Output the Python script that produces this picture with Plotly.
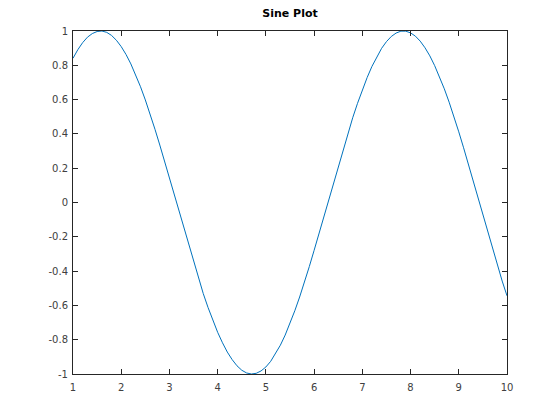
import plotly.graph_objects as go

x_values = [round(1.0 + 0.1 * i, 1) for i in range(91)]
y_values = [
    0.841, 0.891, 0.932, 0.964, 0.985, 0.997, 1.000, 0.992, 0.974, 0.946,
    0.909, 0.863, 0.808, 0.746, 0.675, 0.598, 0.516, 0.427, 0.335, 0.239,
    0.141, 0.042, -0.058, -0.158, -0.256, -0.351, -0.443, -0.530, -0.612, -0.688,
    -0.757, -0.818, -0.872, -0.916, -0.952, -0.978, -0.994, -1.000, -0.996, -0.982,
    -0.959, -0.926, -0.883, -0.832, -0.773, -0.706, -0.631, -0.551, -0.465, -0.374,
    -0.279, -0.182, -0.083, 0.017, 0.117, 0.215, 0.312, 0.405, 0.494, 0.578,
    0.657, 0.729, 0.794, 0.850, 0.899, 0.938, 0.968, 0.988, 0.999, 0.999,
    0.989, 0.970, 0.941, 0.902, 0.855, 0.798, 0.734, 0.663, 0.585, 0.501,
    0.412, 0.319, 0.223, 0.124, 0.025, -0.075, -0.174, -0.272, -0.366, -0.458,
    -0.544,
]
x_ticks = [1, 2, 3, 4, 5, 6, 7, 8, 9, 10]
y_ticks = [-1, -0.8, -0.6, -0.4, -0.2, 0, 0.2, 0.4, 0.6, 0.8, 1]
y_tick_labels = ["-1", "-0.8", "-0.6", "-0.4", "-0.2", "0", "0.2", "0.4", "0.6", "0.8", "1"]

fig = go.Figure()
fig.add_trace(go.Scatter(x=x_values, y=y_values, mode="lines",
                         line=dict(color="#0072BD", width=1)))

axis_common = dict(showline=True, linecolor="#262626", linewidth=1, mirror="ticks",
                   ticks="inside", ticklen=5, tickcolor="#262626", tickwidth=1,
                   showgrid=False, zeroline=False,
                   tickfont=dict(family="DejaVu Sans", size=10, color="#404040"))

W, H = 552, 412
fig.update_layout(
    width=W, height=H,
    margin=dict(l=65, r=53, t=23, b=46),
    paper_bgcolor="white", plot_bgcolor="white",
    showlegend=False,
    title=dict(text="<b>Sine Plot</b>", x=282/W, xanchor="center", xref="container",
               y=1 - 5/H, yanchor="middle", yref="container",
               font=dict(family="DejaVu Sans", size=11, color="black")),
    xaxis=dict(range=[1, 10], tickvals=x_ticks, ticktext=[str(v) for v in x_ticks],
               ticklabelstandoff=4, **axis_common),
    yaxis=dict(range=[-1, 1], tickvals=y_ticks, ticktext=y_tick_labels,
               ticklabelstandoff=2, **axis_common),
)

fig.write_html("out.html")
